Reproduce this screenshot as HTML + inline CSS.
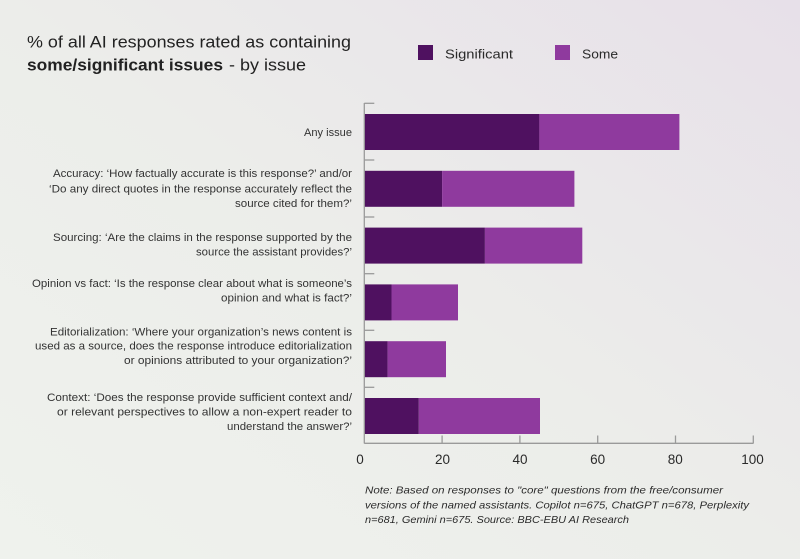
<!DOCTYPE html>
<html><head><meta charset="utf-8"><style>
html,body{margin:0;padding:0;}
body{width:800px;height:559px;overflow:hidden;}
svg{display:block;}
</style></head><body>
<svg width="800" height="559" viewBox="0 0 800 559" xmlns="http://www.w3.org/2000/svg">
<defs>
<linearGradient id="bg" x1="0" y1="1" x2="1" y2="0">
<stop offset="0" stop-color="#eff2ed"/>
<stop offset="0.5" stop-color="#ecedea"/>
<stop offset="1" stop-color="#e7e0e9"/>
</linearGradient>
</defs>
<rect width="800" height="559" fill="url(#bg)"/>
<g font-family="Liberation Sans, sans-serif" fill="#222">
<text x="27" y="47.5" font-size="17" textLength="324" lengthAdjust="spacingAndGlyphs">% of all AI responses rated as containing</text>
<text x="27" y="70.5" font-size="17" font-weight="bold" textLength="196" lengthAdjust="spacingAndGlyphs">some/significant issues</text>
<text x="229" y="70.5" font-size="17" textLength="77" lengthAdjust="spacingAndGlyphs">- by issue</text>
</g>
<rect x="418" y="45" width="15" height="15" fill="#4f1160"/>
<rect x="555" y="45" width="15" height="15" fill="#8f3a9e"/>
<g font-family="Liberation Sans, sans-serif" fill="#2a2a2a" font-size="13">
<text x="445" y="58.5" textLength="68" lengthAdjust="spacingAndGlyphs">Significant</text>
<text x="582" y="58.5" textLength="36" lengthAdjust="spacingAndGlyphs">Some</text>
</g>
<!-- bars -->
<g>
<rect x="364.3" y="114" width="175.1" height="36" fill="#4f1160"/>
<rect x="539.4" y="114" width="140" height="36" fill="#8f3a9e"/>
<rect x="364.3" y="170.8" width="77.8" height="36" fill="#4f1160"/>
<rect x="442.1" y="170.8" width="132.3" height="36" fill="#8f3a9e"/>
<rect x="364.3" y="227.6" width="120.6" height="36" fill="#4f1160"/>
<rect x="484.9" y="227.6" width="97.4" height="36" fill="#8f3a9e"/>
<rect x="364.3" y="284.4" width="27.2" height="36" fill="#4f1160"/>
<rect x="391.5" y="284.4" width="66.5" height="36" fill="#8f3a9e"/>
<rect x="364.3" y="341.2" width="23.3" height="36" fill="#4f1160"/>
<rect x="387.6" y="341.2" width="58.4" height="36" fill="#8f3a9e"/>
<rect x="364.3" y="398" width="54.5" height="36" fill="#4f1160"/>
<rect x="418.8" y="398" width="121.2" height="36" fill="#8f3a9e"/>
</g>
<!-- axes -->
<g stroke="#9a9a9a" stroke-width="1.3" fill="none">
<line x1="364.3" y1="103" x2="364.3" y2="443.5"/>
<line x1="364.3" y1="443.3" x2="753.5" y2="443.3"/>
<line x1="364.3" y1="103.3" x2="374.3" y2="103.3"/>
<line x1="364.3" y1="160" x2="374.3" y2="160"/>
<line x1="364.3" y1="217" x2="374.3" y2="217"/>
<line x1="364.3" y1="273.7" x2="374.3" y2="273.7"/>
<line x1="364.3" y1="330.3" x2="374.3" y2="330.3"/>
<line x1="364.3" y1="387.3" x2="374.3" y2="387.3"/>
<line x1="442.1" y1="435.5" x2="442.1" y2="443.3"/>
<line x1="519.9" y1="435.5" x2="519.9" y2="443.3"/>
<line x1="597.7" y1="435.5" x2="597.7" y2="443.3"/>
<line x1="675.5" y1="435.5" x2="675.5" y2="443.3"/>
<line x1="753.3" y1="435.5" x2="753.3" y2="443.3"/>
</g>
<g font-family="Liberation Sans, sans-serif" fill="#2a2a2a" font-size="13.5" text-anchor="middle">
<text x="360" y="464">0</text>
<text x="442.5" y="464">20</text>
<text x="520" y="464">40</text>
<text x="597.7" y="464">60</text>
<text x="675.3" y="464">80</text>
<text x="752.5" y="464">100</text>
</g>
<!-- category labels -->
<g font-family="Liberation Sans, sans-serif" fill="#333" font-size="11" text-anchor="end">
<text x="352" y="136" textLength="48" lengthAdjust="spacingAndGlyphs">Any issue</text>
<text x="352" y="177" textLength="299" lengthAdjust="spacingAndGlyphs">Accuracy: ‘How factually accurate is this response?’ and/or</text>
<text x="352" y="192.5" textLength="303" lengthAdjust="spacingAndGlyphs">‘Do any direct quotes in the response accurately reflect the</text>
<text x="352" y="207" textLength="117" lengthAdjust="spacingAndGlyphs">source cited for them?’</text>
<text x="352" y="241" textLength="299" lengthAdjust="spacingAndGlyphs">Sourcing: ‘Are the claims in the response supported by the</text>
<text x="352" y="255.5" textLength="156" lengthAdjust="spacingAndGlyphs">source the assistant provides?’</text>
<text x="352" y="287" textLength="320" lengthAdjust="spacingAndGlyphs">Opinion vs fact: ‘Is the response clear about what is someone’s</text>
<text x="352" y="301.5" textLength="131" lengthAdjust="spacingAndGlyphs">opinion and what is fact?’</text>
<text x="352" y="335.5" textLength="302" lengthAdjust="spacingAndGlyphs">Editorialization: ‘Where your organization’s news content is</text>
<text x="352" y="349.5" textLength="317" lengthAdjust="spacingAndGlyphs">used as a source, does the response introduce editorialization</text>
<text x="352" y="364" textLength="228" lengthAdjust="spacingAndGlyphs">or opinions attributed to your organization?’</text>
<text x="352" y="401" textLength="305" lengthAdjust="spacingAndGlyphs">Context: ‘Does the response provide sufficient context and/</text>
<text x="352" y="415.5" textLength="295" lengthAdjust="spacingAndGlyphs">or relevant perspectives to allow a non-expert reader to</text>
<text x="352" y="430" textLength="125" lengthAdjust="spacingAndGlyphs">understand the answer?’</text>
</g>
<!-- note -->
<g font-family="Liberation Sans, sans-serif" fill="#2a2a2a" font-size="10.5" font-style="italic">
<text x="365" y="493.5" textLength="358" lengthAdjust="spacingAndGlyphs">Note: Based on responses to "core" questions from the free/consumer</text>
<text x="365" y="508.5" textLength="384" lengthAdjust="spacingAndGlyphs">versions of the named assistants. Copilot n=675, ChatGPT n=678, Perplexity</text>
<text x="365" y="523" textLength="264" lengthAdjust="spacingAndGlyphs">n=681, Gemini n=675. Source: BBC-EBU AI Research</text>
</g>
</svg>
</body></html>
